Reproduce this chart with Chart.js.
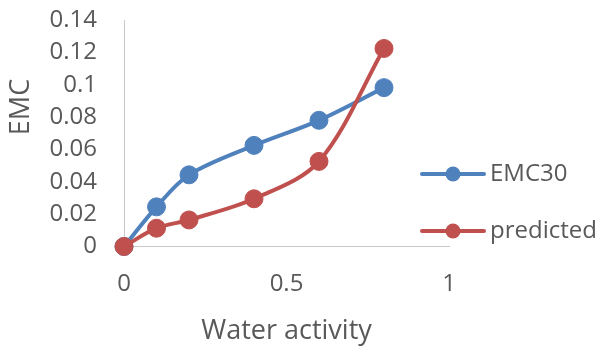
<!DOCTYPE html>
<html>
<head>
<meta charset="utf-8">
<script src="https://cdn.jsdelivr.net/npm/chart.js@4/dist/chart.umd.min.js"></script>
<style>
  html, body { margin: 0; padding: 0; background: #ffffff; }
  #wrap { width: 602px; height: 354px; position: relative; }
</style>
</head>
<body>
<div id="wrap"><canvas id="chart" width="602" height="354"></canvas></div>
<script>
// Sorption data: equilibrium moisture content vs water activity
const waterActivity = [0, 0.1, 0.2, 0.4, 0.6, 0.8];
const emc30 = [0, 0.0245, 0.0443, 0.0625, 0.078, 0.0982];
const predicted = [0, 0.0113, 0.0164, 0.0295, 0.0526, 0.1224];
const seriesNames = ['EMC30', 'predicted'];
const seriesColors = ['#4F81BD', '#C0504D'];

// Axis ticks and titles
const xTickValues = [0, 0.5, 1];
const yTickValues = [0, 0.02, 0.04, 0.06, 0.08, 0.1, 0.12, 0.14];
const xTitle = 'Water activity';
const yTitle = 'EMC';

const FONT = '"Open Sans", "Liberation Sans", sans-serif';
const TEXT = '#595959';
const TICK_SIZE = 24;
const TITLE_SIZE = 27;

const toPoints = (xs, ys) => xs.map((x, i) => ({ x: x, y: ys[i] }));

// Legend with a line + marker sample, placed at the right of the plot
const sideLegend = {
  id: 'sideLegend',
  afterDraw(chart, args, opts) {
    const ctx = chart.ctx;
    ctx.save();
    chart.data.datasets.forEach((ds, i) => {
      const y = opts.y + i * opts.gap;
      const x0 = opts.x;
      ctx.strokeStyle = ds.borderColor;
      ctx.lineWidth = 4;
      ctx.lineCap = 'round';
      ctx.beginPath();
      ctx.moveTo(x0, y);
      ctx.lineTo(x0 + opts.sample, y);
      ctx.stroke();
      ctx.fillStyle = ds.borderColor;
      ctx.beginPath();
      ctx.arc(x0 + opts.sample / 2, y, opts.radius, 0, Math.PI * 2);
      ctx.fill();
      ctx.fillStyle = TEXT;
      ctx.font = opts.fontSize + 'px ' + FONT;
      ctx.textAlign = 'left';
      ctx.textBaseline = 'middle';
      ctx.fillText(ds.label, x0 + opts.sample + 6, y);
    });
    ctx.restore();
  }
};

// Rotated y-axis title
const yAxisTitle = {
  id: 'yAxisTitle',
  afterDraw(chart, args, opts) {
    const ctx = chart.ctx;
    const area = chart.chartArea;
    ctx.save();
    ctx.translate(opts.x, area.top + opts.offset);
    ctx.rotate(-Math.PI / 2);
    ctx.fillStyle = TEXT;
    ctx.font = opts.fontSize + 'px ' + FONT;
    ctx.textAlign = 'center';
    ctx.textBaseline = 'middle';
    ctx.fillText(yTitle, 0, 0);
    ctx.restore();
  }
};

new Chart(document.getElementById('chart'), {
  type: 'scatter',
  data: {
    datasets: [
      {
        label: seriesNames[0],
        data: toPoints(waterActivity, emc30),
        borderColor: seriesColors[0],
        backgroundColor: seriesColors[0],
        order: 2
      },
      {
        label: seriesNames[1],
        data: toPoints(waterActivity, predicted),
        borderColor: seriesColors[1],
        backgroundColor: seriesColors[1],
        order: 1
      }
    ]
  },
  options: {
    responsive: false,
    devicePixelRatio: 1,
    animation: false,
    showLine: true,
    elements: {
      line: { borderWidth: 4, tension: 0.33, capBezierPoints: true },
      point: { radius: 9, borderWidth: 1, hoverRadius: 9 }
    },
    datasets: { scatter: { clip: false } },
    layout: { padding: { top: 20, right: 153, left: 0, bottom: 0 } },
    plugins: {
      legend: { display: false },
      tooltip: { enabled: false },
      sideLegend: { x: 422, y: 174, gap: 57, sample: 62, radius: 7.5, fontSize: TICK_SIZE },
      yAxisTitle: { x: 21, offset: 87, fontSize: TITLE_SIZE }
    },
    scales: {
      x: {
        type: 'linear',
        min: 0,
        max: 1,
        afterBuildTicks: (s) => { s.ticks = xTickValues.map(v => ({ value: v })); },
        afterFit: (s) => { s.height = 107.5; s.paddingLeft = 0; s.paddingRight = 0; },
        grid: { display: false, drawTicks: false },
        border: { display: true, color: '#C9C9C9', width: 1 },
        ticks: {
          color: TEXT,
          font: { family: FONT, size: TICK_SIZE },
          padding: 23,
          maxRotation: 0,
          autoSkip: false,
          callback: (v) => String(v)
        },
        title: {
          display: true,
          text: xTitle,
          color: TEXT,
          font: { family: FONT, size: TITLE_SIZE },
          padding: { top: 0, bottom: 6 }
        }
      },
      y: {
        type: 'linear',
        min: 0,
        max: 0.14,
        afterBuildTicks: (s) => { s.ticks = yTickValues.map(v => ({ value: v })); },
        afterFit: (s) => { s.width = 124; s.paddingTop = 0; s.paddingBottom = 0; },
        grid: { display: false, drawTicks: false },
        border: { display: true, color: '#C9C9C9', width: 1 },
        ticks: {
          color: TEXT,
          font: { family: FONT, size: TICK_SIZE },
          padding: 27,
          autoSkip: false,
          callback: (v) => String(+v.toFixed(2))
        }
      }
    }
  },
  plugins: [sideLegend, yAxisTitle]
});
</script>
</body>
</html>
